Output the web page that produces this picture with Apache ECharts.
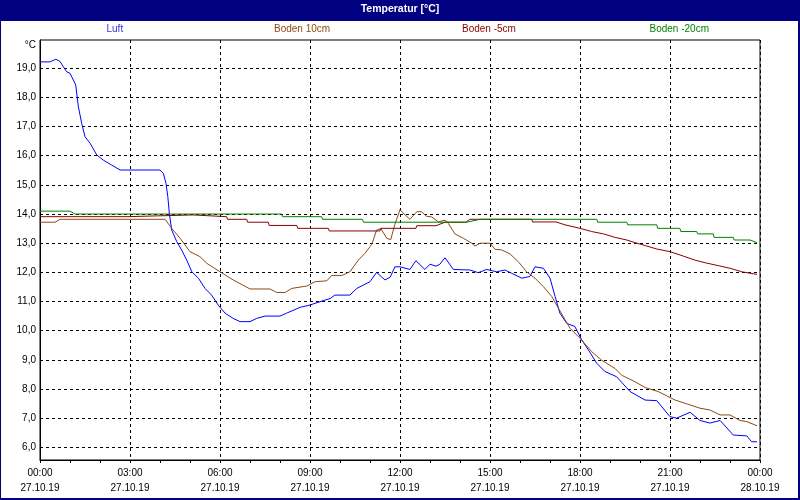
<!DOCTYPE html>
<html>
<head>
<meta charset="utf-8">
<script src="https://cdn.jsdelivr.net/npm/echarts@6/dist/echarts.min.js"></script>
<style>
	html, body { margin: 0; padding: 0; background: #fff; }
	#chart { width: 800px; height: 500px; }
</style>
</head>
<body>
<div id="chart"></div>
<script>
// hours since 27.10.19 00:00
var hourTicks = [0, 3, 6, 9, 12, 15, 18, 21, 24];
var timeLabels = ['00:00', '03:00', '06:00', '09:00', '12:00', '15:00', '18:00', '21:00', '00:00'];
var dateLabels = ['27.10.19', '27.10.19', '27.10.19', '27.10.19', '27.10.19', '27.10.19', '27.10.19', '27.10.19', '28.10.19'];
var tempTicks = [6, 7, 8, 9, 10, 11, 12, 13, 14, 15, 16, 17, 18, 19];

var seriesNames = ['Luft', 'Boden 10cm', 'Boden -5cm', 'Boden -20cm'];

var luftHours = [0, 0.33, 0.53, 0.67, 0.78, 0.89, 1.0, 1.11, 1.19, 1.28, 1.39, 1.5, 1.67, 1.89, 2.11, 2.39, 2.67, 4.0, 4.11, 4.2, 4.26, 4.31, 4.39, 4.56, 4.72, 4.89, 5.06, 5.28, 5.5, 5.72, 5.94, 6.17, 6.44, 6.67, 7.0, 7.22, 7.5, 8.0, 8.22, 8.67, 9.0, 9.44, 9.67, 9.83, 10.33, 10.56, 11.0, 11.22, 11.5, 11.67, 11.83, 12.0, 12.33, 12.53, 12.83, 13.0, 13.2, 13.33, 13.5, 13.78, 14.33, 14.61, 14.89, 15.22, 15.5, 15.72, 16.06, 16.33, 16.5, 16.78, 17.0, 17.17, 17.33, 17.56, 17.83, 18.06, 18.28, 18.56, 18.83, 19.22, 19.67, 20.17, 20.56, 21.0, 21.22, 21.67, 22.0, 22.33, 22.67, 23.11, 23.56, 23.72, 23.9];
var luftTemp = [19.22, 19.22, 19.31, 19.23, 19.05, 18.88, 18.83, 18.6, 18.43, 17.68, 17.11, 16.65, 16.43, 16.03, 15.85, 15.68, 15.51, 15.51, 15.4, 15.05, 14.6, 14.03, 13.45, 13.05, 12.77, 12.42, 12.02, 11.8, 11.45, 11.22, 10.88, 10.6, 10.42, 10.31, 10.31, 10.42, 10.5, 10.5, 10.6, 10.8, 10.88, 11.03, 11.1, 11.22, 11.22, 11.45, 11.68, 12.0, 11.74, 11.83, 12.19, 12.19, 12.1, 12.4, 12.1, 12.28, 12.21, 12.28, 12.5, 12.1, 12.08, 11.99, 12.1, 12.02, 12.08, 11.97, 11.8, 11.86, 12.19, 12.14, 11.8, 11.17, 10.6, 10.25, 10.14, 9.68, 9.34, 8.88, 8.6, 8.42, 7.91, 7.62, 7.6, 7.05, 7.0, 7.2, 6.92, 6.83, 6.92, 6.42, 6.39, 6.19, 6.19];

var boden10Hours = [0, 0.5, 0.67, 4.17, 4.39, 4.67, 5.0, 5.33, 5.56, 6.0, 6.44, 7.0, 7.67, 7.89, 8.17, 8.39, 8.89, 9.17, 9.56, 9.72, 10.06, 10.33, 10.61, 10.83, 11.06, 11.22, 11.36, 11.56, 11.69, 11.83, 12.0, 12.17, 12.33, 12.56, 12.72, 12.89, 13.06, 13.28, 13.5, 13.61, 13.83, 14.11, 14.39, 14.5, 14.67, 15.0, 15.17, 15.39, 15.67, 15.94, 16.22, 16.5, 16.78, 17.06, 17.33, 17.67, 18.0, 18.39, 18.72, 19.17, 19.39, 19.83, 20.17, 20.61, 21.17, 21.56, 22.0, 22.33, 22.67, 23.0, 23.33, 23.56, 23.9];
var boden10Temp = [13.72, 13.72, 13.82, 13.82, 13.51, 13.17, 12.71, 12.54, 12.31, 12.02, 11.74, 11.43, 11.43, 11.31, 11.31, 11.45, 11.53, 11.68, 11.71, 11.89, 11.89, 12.02, 12.42, 12.65, 12.96, 13.45, 13.5, 13.17, 13.12, 13.65, 14.15, 13.97, 13.82, 14.08, 14.08, 13.92, 13.9, 13.73, 13.79, 13.68, 13.32, 13.17, 13.0, 12.9, 13.0, 13.0, 12.79, 12.77, 12.63, 12.37, 12.02, 11.8, 11.51, 11.17, 10.68, 10.08, 9.74, 9.28, 8.99, 8.7, 8.47, 8.25, 8.05, 7.91, 7.62, 7.49, 7.34, 7.28, 7.11, 7.11, 6.92, 6.88, 6.74];

var boden5Hours = [0, 2.9, 2.93, 5.1, 5.13, 6.22, 6.25, 6.89, 6.92, 7.61, 7.64, 8.56, 8.59, 9.61, 9.64, 11.33, 11.36, 12.53, 12.56, 13.2, 13.5, 14.2, 14.33, 16.39, 16.42, 17.2, 17.5, 18.0, 18.39, 18.78, 19.17, 19.56, 19.83, 20.17, 20.56, 21.0, 21.44, 21.83, 22.17, 22.61, 23.0, 23.39, 23.9];
var boden5Temp = [13.91, 13.91, 13.97, 13.97, 13.91, 13.91, 13.82, 13.82, 13.72, 13.72, 13.61, 13.61, 13.51, 13.51, 13.42, 13.42, 13.51, 13.51, 13.6, 13.6, 13.72, 13.72, 13.82, 13.82, 13.73, 13.73, 13.63, 13.51, 13.4, 13.32, 13.2, 13.11, 13.02, 12.92, 12.8, 12.71, 12.56, 12.42, 12.33, 12.23, 12.14, 12.02, 11.93];

var boden20Hours = [0, 1.0, 1.17, 8.06, 8.09, 9.39, 9.42, 10.75, 10.78, 14.22, 14.67, 18.56, 18.59, 19.56, 19.59, 20.56, 20.59, 21.33, 21.36, 21.89, 21.92, 22.44, 22.47, 23.11, 23.14, 23.67, 23.9];
var boden20Temp = [14.1, 14.1, 14.0, 14.0, 13.91, 13.91, 13.82, 13.82, 13.72, 13.72, 13.82, 13.82, 13.72, 13.72, 13.63, 13.63, 13.51, 13.51, 13.4, 13.4, 13.32, 13.32, 13.2, 13.2, 13.11, 13.11, 13.02];

var lineColors = ['#0000ff', '#8b4a14', '#880000', '#008000'];
var legendColors = ['#3333dd', '#8b4a14', '#880000', '#008000'];

function zip(xs, ys) {
	var out = [];
	for (var i = 0; i < xs.length; i++) {
		out.push([xs[i], ys[i]]);
	}
	return out;
}

var chartDom = document.getElementById('chart');
var myChart = echarts.init(chartDom, null, { renderer: 'canvas' });
var font = 'Liberation Sans';

// legend text centres in the header row
var legendCenters = [114, 301, 491, 681];
var legendWidths = [17, 56, 60, 65];
var legends = [];
for (let i = 0; i < seriesNames.length; i++) {
	legends.push({
		data: [{ name: seriesNames[i], textStyle: { color: legendColors[i] } }],
		left: legendCenters[i] - legendWidths[i] / 2 - 5,
		top: 24,
		padding: 0,
		itemWidth: 0,
		itemHeight: 0,
		textStyle: { fontFamily: font, fontSize: 10 }
	});
}

var allData = [zip(luftHours, luftTemp), zip(boden10Hours, boden10Temp), zip(boden5Hours, boden5Temp), zip(boden20Hours, boden20Temp)];
var series = [];
for (let i = 0; i < seriesNames.length; i++) {
	series.push({
		name: seriesNames[i],
		type: 'line',
		data: allData[i],
		showSymbol: false,
		animation: false,
		itemStyle: { color: lineColors[i] },
		lineStyle: { color: lineColors[i], width: 1 }
	});
}

var option = {
	backgroundColor: '#fff',
	animation: false,
	title: {
		text: 'Temperatur [°C]',
		left: 'center',
		top: 4,
		padding: 0,
		textStyle: { color: '#fff', fontSize: 10.5, fontWeight: 'bold', fontFamily: font }
	},
	graphic: [
		{ type: 'rect', shape: { x: 0, y: 0, width: 800, height: 21 }, style: { fill: '#000080' }, z: -1 },
		{ type: 'rect', shape: { x: 0.5, y: 0.5, width: 799, height: 499 }, style: { fill: null, stroke: '#000080', lineWidth: 1 }, z: 100 },
		{ type: 'rect', shape: { x: 798, y: 0, width: 2, height: 500 }, style: { fill: '#000080' }, z: 100 },
		{ type: 'rect', shape: { x: 0, y: 498, width: 800, height: 2 }, style: { fill: '#000080' }, z: 100 }
	],
	legend: legends,
	grid: {
		left: 40,
		right: 40,
		top: 40,
		bottom: 40,
		show: true,
		borderColor: '#000',
		borderWidth: 1
	},
	xAxis: {
		type: 'value',
		min: 0,
		max: 24,
		interval: 3,
		axisLine: { lineStyle: { color: '#000', width: 1 } },
		axisTick: { show: true, length: 3, lineStyle: { color: '#000' } },
		minorTick: { show: true, splitNumber: 3, length: 3, lineStyle: { color: '#000' } },
		splitLine: { show: true, lineStyle: { color: '#000', type: [3, 3], width: 1 } },
		axisLabel: {
			color: '#000',
			fontFamily: font,
			fontSize: 10,
			lineHeight: 15,
			margin: 6,
			formatter: function (v) {
				var i = hourTicks.indexOf(v);
				return i < 0 ? '' : timeLabels[i] + '\n' + dateLabels[i];
			}
		}
	},
	yAxis: {
		type: 'value',
		min: 5.564,
		max: 19.97,
		name: '°C',
		nameLocation: 'end',
		nameGap: -10,
		nameTextStyle: { color: '#000', fontFamily: font, fontSize: 10, align: 'right', padding: [0, 4, 0, 0] },
		axisLine: { show: true, lineStyle: { color: '#000', width: 1 } },
		axisTick: { show: false, customValues: tempTicks },
		splitLine: { show: true, lineStyle: { color: '#000', type: [3, 3], width: 1 } },
		axisLabel: {
			color: '#000',
			fontFamily: font,
			fontSize: 10,
			margin: 4,
			customValues: tempTicks,
			formatter: function (v) {
				return v.toFixed(1).replace('.', ',');
			}
		}
	},
	series: series
};

option && myChart.setOption(option);
</script>
</body>
</html>
